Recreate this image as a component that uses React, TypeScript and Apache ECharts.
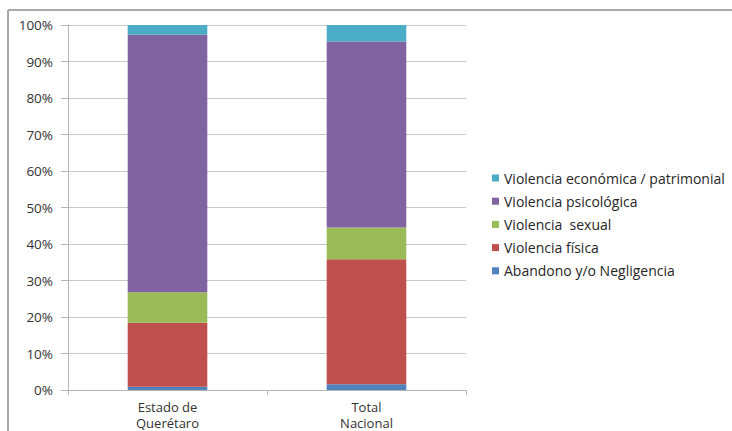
import React, { useEffect, useRef } from "react";
import * as echarts from "echarts";

// Categories on the x axis
const categories = ["Estado de\nQuerétaro", "Total\nNacional"];

// Share of each type of violence (%), stacked bottom to top
const abandono = [0.9, 1.6];
const fisica = [17.5, 34.2];
const sexual = [8.4, 8.7];
const psicologica = [70.5, 51.0];
const economica = [2.7, 4.5];

const seriesNames = [
  "Abandono y/o Negligencia",
  "Violencia física",
  "Violencia  sexual",
  "Violencia psicológica",
  "Violencia económica / patrimonial",
];
const seriesColors = ["#4F81BD", "#C0504D", "#9BBB59", "#8064A2", "#4BACC6"];
const seriesValues = [abandono, fisica, sexual, psicologica, economica];

const FONT = "'Open Sans', 'DejaVu Sans', sans-serif";

export default function App() {
  const ref = useRef<HTMLDivElement>(null);

  useEffect(() => {
    if (!ref.current) return;
    const chart = echarts.init(ref.current, null, { renderer: "svg" });

    chart.setOption({
      animation: false,
      backgroundColor: "#ffffff",
      textStyle: { fontFamily: FONT },
      grid: { left: 68, right: 266, top: 25, bottom: 41, containLabel: false },
      legend: {
        orient: "vertical",
        left: 487,
        top: 165,
        itemWidth: 7,
        itemHeight: 7,
        itemGap: 7.2,
        icon: "rect",
        data: [...seriesNames].reverse(),
        textStyle: { fontFamily: FONT, fontSize: 14, color: "#262626", lineHeight: 16 },
      },
      xAxis: {
        type: "category",
        data: categories,
        axisLine: { lineStyle: { color: "#b5b5b5", width: 1 } },
        axisTick: { show: true, length: 5, lineStyle: { color: "#b5b5b5" } },
        axisLabel: {
          margin: 9,
          fontFamily: FONT,
          fontSize: 13,
          lineHeight: 16,
          color: "#333333",
        },
      },
      yAxis: {
        type: "value",
        min: 0,
        max: 100,
        interval: 10,
        axisLine: { show: true, lineStyle: { color: "#b5b5b5", width: 1 } },
        axisTick: { show: true, length: 7, lineStyle: { color: "#b5b5b5" } },
        axisLabel: {
          formatter: "{value}%",
          margin: 15,
          fontFamily: FONT,
          fontSize: 13.5,
          color: "#333333",
        },
        splitLine: { show: true, lineStyle: { color: "#c8c8c8", width: 1 } },
      },
      series: seriesNames.map((name, i) => ({
        name,
        type: "bar",
        stack: "total",
        barWidth: "40%",
        itemStyle: { color: seriesColors[i] },
        data: seriesValues[i],
      })),
      graphic: [
        {
          type: "line",
          shape: { x1: 8, y1: 10, x2: 732, y2: 10 },
          style: { stroke: "#a8a8a8", lineWidth: 2 },
        },
        {
          type: "line",
          shape: { x1: 8, y1: 10, x2: 8, y2: 431 },
          style: { stroke: "#a8a8a8", lineWidth: 2 },
        },
      ],
    });

    return () => chart.dispose();
  }, []);

  return (
    <div
      ref={ref}
      style={{ position: "fixed", left: 0, top: 0, width: 732, height: 431 }}
    />
  );
}
